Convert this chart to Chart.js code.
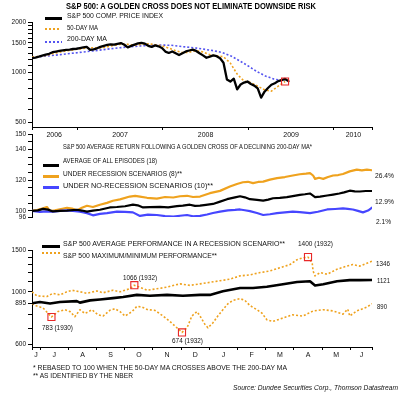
<!DOCTYPE html>
<html><head><meta charset="utf-8">
<script src="https://cdn.jsdelivr.net/npm/chart.js@4/dist/chart.umd.min.js"></script>
<style>
html,body{margin:0;padding:0;background:#fff;}
#wrap{position:relative;width:400px;height:396px;overflow:hidden;background:#fff;font-family:"Liberation Sans",Arial,sans-serif;color:#111;}
canvas{position:absolute;left:0;}
.t{position:absolute;white-space:nowrap;transform-origin:0 50%;line-height:1;}
.sw{position:absolute;}
</style></head><body><div id="wrap">
<canvas id="c1" width="400" height="141" style="top:0px"></canvas>
<canvas id="c2" width="400" height="109" style="top:128px"></canvas>
<canvas id="c3" width="400" height="121" style="top:240px"></canvas>
</div>
<script>
// ---------------- PANEL 1: S&P 500 price (decimal years) ----------------
const spxYears = [2006.47,2006.51,2006.55,2006.59,2006.63,2006.67,2006.71,2006.75,2006.79,2006.83,2006.87,2006.91,2006.95,2006.99,
  2007.03,2007.07,2007.11,2007.15,2007.19,2007.23,2007.27,2007.31,2007.35,2007.39,2007.43,2007.47,2007.51,2007.55,2007.59,2007.63,
  2007.67,2007.71,2007.75,2007.79,2007.83,2007.87,2007.91,2007.95,2007.99,2008.03,2008.07,2008.11,2008.15,2008.19,2008.23,2008.27,
  2008.31,2008.35,2008.39,2008.43,2008.47,2008.51,2008.55,2008.59,2008.63,2008.67,2008.71,2008.75,2008.79,2008.83,2008.87,2008.91,
  2008.95,2008.99,2009.03,2009.07,2009.11,2009.15,2009.19,2009.23,2009.27,2009.31,2009.35,2009.39,2009.43,2009.47];
const spxPrice = [1215,1225,1240,1258,1275,1290,1318,1330,1342,1352,1362,1368,1378,1383,
  1395,1408,1420,1362,1372,1392,1418,1440,1458,1470,1462,1480,1496,1462,1410,1438,
  1465,1488,1500,1482,1440,1418,1448,1430,1398,1330,1305,1332,1300,1268,1300,1332,
  1350,1366,1342,1300,1262,1222,1242,1262,1248,1212,1140,905,880,915,790,845,
  868,880,850,832,800,705,765,805,842,860,885,898,912,885];
const ma50Years = [2006.47,2006.55,2006.63,2006.71,2006.79,2006.87,2006.95,2007.03,2007.11,2007.19,2007.27,2007.35,2007.43,2007.51,
  2007.59,2007.67,2007.75,2007.83,2007.91,2007.99,2008.07,2008.15,2008.23,2008.31,2008.39,2008.47,2008.55,2008.63,2008.71,2008.79,
  2008.87,2008.95,2009.03,2009.11,2009.19,2009.27,2009.35,2009.43];
const ma50 = [1232,1242,1262,1290,1318,1342,1362,1380,1400,1402,1396,1420,1450,1472,
  1470,1452,1468,1480,1462,1440,1395,1345,1312,1318,1348,1322,1272,1256,1238,1135,
  975,885,868,825,785,770,825,880];
const ma200Years = [2006.47,2006.60,2006.80,2007.00,2007.20,2007.40,2007.60,2007.80,2008.00,2008.10,2008.20,2008.40,2008.60,2008.70,
  2008.80,2008.90,2009.00,2009.10,2009.20,2009.30,2009.43];
const ma200 = [1225,1245,1275,1310,1345,1385,1420,1445,1455,1450,1430,1395,1345,1310,1250,1170,1090,1010,950,910,885];
const crossYear = [2009.43];
const crossValue = [880];
const yearLabels = ['2006','2007','2008','2009','2010'];
const yearLabelPos = [2006.73,2007.5,2008.5,2009.5,2010.23];
const yearBounds = [2007,2008,2009,2010];
const p1Ticks = [500,600,700,800,900,1000,1100,1200,1300,1400,1500,1600,1700,1800,1900,2000];
const p1Labels = [500,1000,1500,2000];

// ---------------- PANEL 2: average return after golden cross (months from Jul 1) ----------------
const allMonths = [-0.29,-0.08,0.10,0.28,0.45,0.70,0.95,1.30,1.48,1.66,1.87,2.12,2.47,2.72,3.01,3.29,3.46,3.65,3.89,4.25,4.54,4.85,
  5.06,5.31,5.49,5.67,5.88,6.13,6.38,6.63,6.91,7.09,7.26,7.44,7.69,7.91,8.09,8.26,8.50,8.75,8.96,9.21,9.39,9.57,9.75,9.93,10.18,
  10.39,10.61,10.78,10.98,11.16,11.34,11.55,11.77];
const allEpisodes = [100,100.3,101.3,100.8,99.6,100,100.2,100.7,100.2,99.5,100.1,100.7,102.2,102.5,103,104,103.6,102.2,102.4,102.6,102.3,103.1,
  103.4,104,103.2,103.4,103.9,104.5,106,107.6,108.8,109.5,108.8,107.6,107.2,106.7,107.3,108.2,108.4,108.9,109.6,110.4,110.8,111.3,108.9,109.3,110,
  110.6,111.3,112,113.1,112.7,112.6,112.9,112.9];
const recMonths = [-0.29,-0.11,0.10,0.24,0.35,0.52,0.70,0.95,1.13,1.30,1.48,1.66,1.87,2.12,2.37,2.58,2.83,3.18,3.37,3.54,3.79,4.14,
  4.43,4.72,4.96,5.21,5.42,5.67,6.02,6.38,6.73,6.98,7.19,7.37,7.55,7.73,7.91,8.15,8.40,8.68,8.96,9.21,9.43,9.57,9.68,9.75,9.89,
  10.04,10.21,10.39,10.57,10.74,10.98,11.23,11.41,11.59,11.77];
const recession = [100,100.5,101.6,102.5,99.8,100.3,101,102,101.5,100.3,102,103.3,102.5,104,105.2,106.6,107.5,109.3,109.8,109.3,108.5,108,
  109,108.7,109.5,109.8,109,109.3,111.5,113,115.8,117.5,118.6,118.9,118,118.8,119,120.3,121.3,122,123,123.8,124.2,124.6,123,120.8,121.5,
  120.8,122,123,123.3,124,125.7,126.8,126.3,126.8,126.4];
const noRecMonths = [-0.29,-0.01,0.24,0.45,0.70,0.95,1.16,1.41,1.66,1.87,2.12,2.37,2.72,3.01,3.29,3.54,3.82,4.14,4.43,4.72,4.96,5.21,
  5.42,5.67,5.92,6.13,6.38,6.66,6.91,7.09,7.26,7.44,7.69,7.91,8.15,8.40,8.68,8.96,9.21,9.57,9.85,10.18,10.46,10.74,10.91,11.09,11.27,
  11.45,11.63,11.77];
const noRecession = [100,99.3,99.6,99.4,100,100.3,100,99.5,98.5,97.1,98,98.5,99.5,99.3,99,96.7,97.5,97.3,96.6,96.2,96.8,97.3,
  96.5,96.7,97.6,98.6,99.5,100.3,100.6,100.9,100.4,99.8,98.6,97.3,97.8,98.5,99,99.5,99.2,98.5,99.4,100.9,101.2,101.6,101.3,100.9,100,
  99,100.2,102.1];
const p2Ticks = [96,100,105,110,115,120,125,130,135,140,145,150];
const p2Labels = [96,100,120,140,150];

// ---------------- PANEL 3: recession scenario performance ----------------
const avgMonths = [-0.29,-0.01,0.35,0.70,1.30,1.41,1.77,2.12,2.58,2.94,3.43,3.89,4.50,5.06,5.67,6.02,6.48,7.09,7.55,8.04,8.61,9.11,
  9.57,9.75,10.04,10.53,10.98,11.34,11.77];
const avgRecession = [895,905,893,905,913,900,920,928,940,950,970,962,970,962,970,970,1005,1038,1038,1050,1075,1099,
  1107,1062,1076,1107,1120,1120,1121];
const maxMonths = [-0.29,-0.11,0.24,0.45,0.70,0.95,1.13,1.41,1.66,2.01,2.23,2.58,2.83,3.18,3.34,3.79,4.14,4.50,4.96,5.31,5.67,6.02,
  6.38,6.73,7.09,7.44,7.80,8.15,8.50,8.86,9.11,9.32,9.50,9.65,9.68,9.75,9.93,10.18,10.53,10.88,11.09,11.34,11.59,11.77];
const maxPerf = [1000,960,955,985,970,1000,1015,1000,985,1008,990,1015,1000,1030,1066,1015,1030,1046,1080,1064,1080,1096,
  1113,1130,1167,1178,1205,1224,1262,1302,1365,1390,1400,1320,1224,1167,1205,1186,1245,1283,1302,1283,1320,1346];
const minMonths = [-0.29,-0.11,0.10,0.35,0.40,0.63,0.88,1.06,1.23,1.41,1.59,1.84,2.05,2.23,2.47,2.65,2.83,3.01,3.26,3.43,3.61,3.82,
  4.07,4.36,4.60,4.85,5.03,5.21,5.38,5.56,5.67,5.84,5.95,6.13,6.30,6.48,6.66,6.84,7.09,7.26,7.44,7.69,7.87,8.04,8.26,8.61,8.96,9.32,
  9.68,10.04,10.39,10.74,10.91,10.98,11.23,11.59,11.77];
const minPerf = [890,870,855,795,783,825,840,825,785,840,810,840,800,790,835,848,825,790,825,868,862,840,
  835,790,750,705,674,705,790,825,790,730,705,740,790,840,890,920,935,920,875,840,812,762,750,775,800,790,
  830,840,830,805,845,790,830,862,890];
const extremeMonths = [0.40,3.34,5.03,9.50];
const extremeValues = [783,1066,674,1400];
const monthLabels = ['J','J','A','S','O','N','D','J','F','M','A','M','J'];
const monthLabelPos = [-0.15,0.5,1.5,2.5,3.5,4.5,5.5,6.5,7.5,8.5,9.5,10.5,11.4];
const monthBounds = [0,1,2,3,4,5,6,7,8,9,10,11];
const p3Ticks = [600,700,800,895,1000,1100,1200,1300,1400,1500];
const p3Labels = [600,895,1000,1500];

// ---------------- helpers ----------------
const FONT = '"Liberation Sans", Arial, sans-serif';
const BLACK = '#000000', ORANGE = '#EFA21E', BLUE = '#4646FF', BLUE_DOT = '#5555F0', RED = '#E82828';
const zip = (xs, ys) => xs.map((x, i) => ({x, y: ys[i]}));

function xAxis(min, max, bounds, mids, labels, show) {
  const lab = new Map(mids.map((v, i) => [v, labels[i]]));
  return {
    type: 'linear', min, max, display: show,
    afterBuildTicks: s => { s.ticks = [min, ...bounds, ...mids, max].sort((a, b) => a - b).map(v => ({value: v})); },
    afterFit: s => { s.height = 14; },
    ticks: { autoSkip: false, maxRotation: 0, minRotation: 0, padding: 1, color: '#111',
      font: {family: FONT, size: 7}, callback: v => lab.has(v) ? lab.get(v) : '' },
    grid: { drawOnChartArea: false, drawTicks: true, tickLength: 3, color: '#000',
      tickColor: c => (c.tick && lab.has(c.tick.value)) ? 'rgba(0,0,0,0)' : '#000' },
    border: { display: true, color: '#000', width: 1 }
  };
}
function yAxis(type, min, max, tickVals, labelVals) {
  return {
    type, min, max, position: 'left',
    afterBuildTicks: s => { s.ticks = tickVals.map(v => ({value: v})); },
    afterFit: s => { s.width = 32; },
    ticks: { autoSkip: false, padding: 2, color: '#111', font: {family: FONT, size: 6.5},
      callback: v => labelVals.includes(v) ? String(v) : '' },
    grid: { drawOnChartArea: false, drawTicks: true, tickLength: 4, color: '#000' },
    border: { display: true, color: '#000', width: 1 }
  };
}
function line(data, color, width, dash) {
  return { data, borderColor: color, borderWidth: width, borderDash: dash || [], pointRadius: 0,
    tension: 0, fill: false, borderJoinStyle: 'round', borderCapStyle: dash ? 'butt' : 'round' };
}
function markers(data) {
  return { data, showLine: false, pointStyle: 'rect', pointRadius: 5, pointHoverRadius: 5,
    pointBorderColor: RED, pointBackgroundColor: 'rgba(0,0,0,0)', pointBorderWidth: 1.1 };
}
function make(id, datasets, xs, ys, padding) {
  return new Chart(document.getElementById(id), {
    type: 'line',
    data: { datasets },
    options: {
      responsive: false, maintainAspectRatio: false, devicePixelRatio: 1, animation: false, events: [],
      layout: { padding },
      plugins: { legend: {display: false}, tooltip: {enabled: false} },
      scales: { x: xs, y: ys }
    }
  });
}

// Panel 1
make('c1', [
  markers(zip(crossYear, crossValue)),
  line(zip(spxYears, spxPrice), BLACK, 2.3),
  line(zip(ma50Years, ma50), ORANGE, 1.6, [2, 2]),
  line(zip(ma200Years, ma200), BLUE_DOT, 1.6, [2, 2])
], xAxis(2006.47, 2010.447, yearBounds, yearLabelPos, yearLabels, true),
   yAxis('logarithmic', 470, 2000, p1Ticks, p1Labels), {left: 0, right: 28, top: 22, bottom: 0});

// Panel 2
make('c2', [
  line(zip(allMonths, allEpisodes), BLACK, 2.2),
  line(zip(noRecMonths, noRecession), BLUE, 2.2),
  line(zip(recMonths, recession), ORANGE, 2.2)
], xAxis(-0.29, 11.77, monthBounds, monthLabelPos, monthLabels, false),
   yAxis('linear', 96, 150, p2Ticks, p2Labels), {left: 0, right: 28, top: 6, bottom: 6});

// Panel 3
make('c3', [
  markers(zip(extremeMonths, extremeValues)),
  line(zip(avgMonths, avgRecession), BLACK, 2.6),
  line(zip(maxMonths, maxPerf), ORANGE, 1.6, [2, 2]),
  line(zip(minMonths, minPerf), ORANGE, 1.6, [2, 2])
], xAxis(-0.29, 11.77, monthBounds, monthLabelPos, monthLabels, true),
   yAxis('logarithmic', 585, 1500, p3Ticks, p3Labels), {left: 0, right: 28, top: 10, bottom: 0});

// ---------------- text & legend swatches ----------------
const wrap = document.getElementById('wrap');
function addText(t, x, cy, w, fs, st) {
  const d = document.createElement('div');
  d.className = 't'; d.textContent = t;
  d.style.left = x + 'px'; d.style.top = (cy - 0.49 * fs) + 'px'; d.style.fontSize = fs + 'px';
  if (st) Object.assign(d.style, st);
  wrap.appendChild(d);
  const nat = d.getBoundingClientRect().width;
  if (nat > 0) d.style.transform = 'scaleX(' + (w / nat) + ')';
}
function addSwatch(x1, x2, y, h, color, dotted) {
  const d = document.createElement('div');
  d.className = 'sw';
  d.style.left = x1 + 'px'; d.style.width = (x2 - x1) + 'px';
  d.style.top = Math.round(y - h / 2) + 'px'; d.style.height = h + 'px';
  d.style.background = dotted ? 'repeating-linear-gradient(90deg,' + color + ' 0 2px, rgba(0,0,0,0) 2px 4px)' : color;
  wrap.appendChild(d);
}
addText('S&P 500: A GOLDEN CROSS DOES NOT ELIMINATE DOWNSIDE RISK', 66, 6, 250, 9.5, {fontWeight: 'bold', color: '#000'});
addText('S&P 500 COMP. PRICE INDEX', 67, 15, 96, 7);
addText('50-DAY MA', 67, 27.2, 31, 7);
addText('200-DAY MA', 67, 38.8, 40, 7);
addSwatch(45, 62, 18.3, 3, BLACK, false);
addSwatch(45, 60, 29.3, 2, ORANGE, true);
addSwatch(45, 62, 41.5, 2, BLUE_DOT, true);

addText('S&P 500 AVERAGE RETURN FOLLOWING A GOLDEN CROSS OF A DECLINING 200-DAY MA*', 63, 146, 249, 7);
addText('AVERAGE OF ALL EPISODES (18)', 63, 160.8, 94, 7);
addText('UNDER RECESSION SCENARIOS (8)**', 63, 173, 119, 7);
addText('UNDER NO-RECESSION SCENARIOS (10)**', 63, 185.6, 150, 7);
addSwatch(43, 59, 165.7, 2.5, BLACK, false);
addSwatch(43, 59, 176.7, 2.5, ORANGE, false);
addSwatch(43, 59, 187.3, 2.5, BLUE, false);
addText('26.4%', 375, 175, 19, 7);
addText('12.9%', 375, 201, 19, 7);
addText('2.1%', 376, 221.5, 15, 7);

addText('S&P 500 AVERAGE PERFORMANCE IN A RECESSION SCENARIO**', 63, 243.5, 222, 7);
addText('S&P 500 MAXIMUM/MINIMUM PERFORMANCE**', 63, 255, 154, 7);
addSwatch(42, 60, 246.7, 3, BLACK, false);
addSwatch(42, 60, 253.3, 2, ORANGE, true);
addText('1400 (1932)', 298, 243.5, 35, 7);
addText('1066 (1932)', 123, 277.5, 34, 7);
addText('783 (1930)', 42, 327.5, 31, 7);
addText('674 (1932)', 172, 340, 31, 7);
addText('1346', 376, 263, 14, 7);
addText('1121', 377, 280, 13, 7);
addText('890', 377, 306, 10, 7);

addText('* REBASED TO 100 WHEN THE 50-DAY MA CROSSES ABOVE THE 200-DAY MA', 33, 367, 254, 7);
addText('** AS IDENTIFIED BY THE NBER', 33, 375.5, 100, 7);
addText('Source: Dundee Securities Corp., Thomson Datastream', 233, 387.5, 165, 7, {fontStyle: 'italic'});
</script>
</body></html>
